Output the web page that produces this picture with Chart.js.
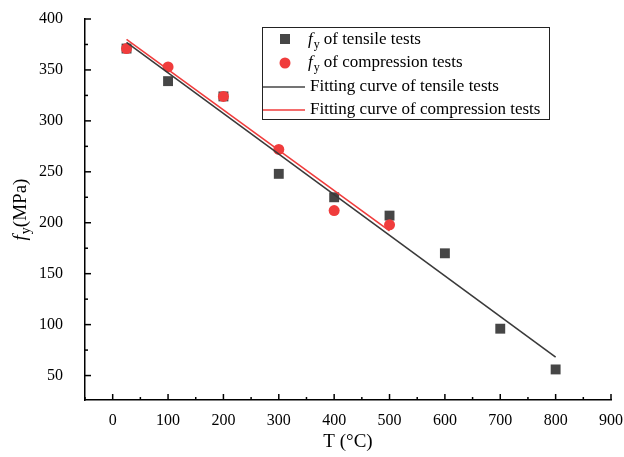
<!DOCTYPE html>
<html>
<head>
<meta charset="utf-8">
<script src="https://cdn.jsdelivr.net/npm/chart.js@4/dist/chart.umd.min.js"></script>
<style>
  html, body { margin: 0; padding: 0; background: #fff; }
  #wrap { width: 624px; height: 457px; }
</style>
</head>
<body>
<div id="wrap"><canvas id="fy_chart"></canvas></div>
<script>
// measured points
var tensileT = [25, 100, 200, 300, 400, 500, 600, 700, 800];
var tensileFy = [371, 339, 324, 248, 225, 207, 170, 96, 56];
var compT = [25, 100, 200, 300, 400, 500];
var compFy = [371, 353, 324, 272, 212, 198];
// fitted straight lines (end points)
var fitTensileT = [25, 800];
var fitTensileFy = [377, 68];
var fitCompT = [25, 500];
var fitCompFy = [380, 192];

var xTicks = [0, 100, 200, 300, 400, 500, 600, 700, 800, 900];
var yTicks = [50, 100, 150, 200, 250, 300, 350, 400];

var legendLabels = ["of tensile tests", "of compression tests",
  "Fitting curve of tensile tests", "Fitting curve of compression tests"];

function pts(xs, ys) {
  return xs.map(function (x, i) { return { x: x, y: ys[i] }; });
}

var FONT = "'Liberation Serif', 'Times New Roman', serif";
var GREY = "#464646";
var RED = "#f03c3c";

// inward major/minor ticks + legend box + rotated y title
var extras = {
  id: "extras",
  afterDraw: function (chart) {
    var c = chart.ctx, xs = chart.scales.x, ys = chart.scales.y;
    var a = chart.chartArea;
    c.save();
    c.strokeStyle = "#000";
    c.lineWidth = 1.5;
    for (var v = -50; v <= 900; v += 50) {
      var px = xs.getPixelForValue(v);
      var len = (v % 100 === 0) ? 6 : 3;
      c.beginPath(); c.moveTo(px, a.bottom); c.lineTo(px, a.bottom - len); c.stroke();
    }
    for (var w = 50; w <= 400; w += 25) {
      var py = ys.getPixelForValue(w);
      var l2 = (w % 50 === 0) ? 6 : 3;
      c.beginPath(); c.moveTo(a.left, py); c.lineTo(a.left + l2, py); c.stroke();
    }

    // legend
    var bx = 262, by = 27, bw = 287, bh = 92;
    c.fillStyle = "#fff";
    c.fillRect(bx, by, bw, bh);
    c.strokeStyle = "#222";
    c.lineWidth = 1;
    c.strokeRect(bx + 0.5, by + 0.5, bw, bh);
    c.textBaseline = "middle";
    var rows = [by + 13, by + 36, by + 60, by + 83];
    // square
    c.fillStyle = GREY;
    c.fillRect(285 - 5, rows[0] - 6, 10, 10);
    c.fillStyle = RED;
    c.beginPath(); c.arc(285, rows[1], 5.5, 0, Math.PI * 2); c.fill();
    for (var i = 0; i < 2; i++) {
      var tx = 308;
      c.fillStyle = "#000";
      c.font = "italic 17px " + FONT;
      c.fillText("f", tx, rows[i]);
      tx += c.measureText("f").width + 1;
      c.font = "12px " + FONT;
      c.fillText("y", tx, rows[i] + 5);
      tx += c.measureText("y").width + 4;
      c.font = "17px " + FONT;
      c.fillText(legendLabels[i], tx, rows[i]);
    }
    c.lineWidth = 1.5;
    c.strokeStyle = GREY;
    c.beginPath(); c.moveTo(263, rows[2]); c.lineTo(305, rows[2]); c.stroke();
    c.strokeStyle = RED;
    c.beginPath(); c.moveTo(263, rows[3]); c.lineTo(305, rows[3]); c.stroke();
    c.fillStyle = "#000";
    c.font = "17px " + FONT;
    c.fillText(legendLabels[2], 310, rows[2]);
    c.fillText(legendLabels[3], 310, rows[3]);

    // y axis title
    c.translate(19, (a.top + a.bottom) / 2);
    c.rotate(-Math.PI / 2);
    c.textBaseline = "alphabetic";
    c.font = "italic 19px " + FONT;
    var t1 = c.measureText("f").width;
    c.font = "14px " + FONT;
    var t2 = c.measureText("y").width;
    c.font = "19px " + FONT;
    var t3 = c.measureText("(MPa)").width;
    var x0 = -(t1 + t2 + t3 + 1) / 2;
    c.font = "italic 19px " + FONT;
    c.fillText("f", x0, 7);
    c.font = "14px " + FONT;
    c.fillText("y", x0 + t1 + 1, 11);
    c.font = "19px " + FONT;
    c.fillText("(MPa)", x0 + t1 + t2 + 1, 7);
    c.restore();
  }
};

var ctx = document.getElementById("fy_chart");
var fyChart = new Chart(ctx, {
  type: "scatter",
  data: {
    datasets: [{
      label: "Fitting curve of compression tests",
      data: pts(fitCompT, fitCompFy),
      showLine: true,
      borderColor: RED,
      borderWidth: 1.6,
      pointRadius: 0,
      order: 1
    }, {
      label: "Fitting curve of tensile tests",
      data: pts(fitTensileT, fitTensileFy),
      showLine: true,
      borderColor: "#3a3a3a",
      borderWidth: 1.6,
      pointRadius: 0,
      order: 2
    }, {
      label: "fy of compression tests",
      data: pts(compT, compFy),
      pointStyle: "circle",
      pointRadius: 5.5,
      backgroundColor: RED,
      borderColor: RED,
      borderWidth: 0,
      order: 3
    }, {
      label: "fy of tensile tests",
      data: pts(tensileT, tensileFy),
      pointStyle: "rect",
      pointRadius: 7,
      backgroundColor: GREY,
      borderColor: GREY,
      borderWidth: 0,
      order: 4
    }]
  },
  options: {
    responsive: true,
    maintainAspectRatio: false,
    animation: false,
    layout: { padding: { top: 19, right: 13, left: 0, bottom: 0 } },
    plugins: {
      legend: { display: false },
      tooltip: { enabled: false }
    },
    scales: {
      x: {
        type: "linear",
        min: -50,
        max: 900,
        afterBuildTicks: function (s) { s.ticks = xTicks.map(function (v) { return { value: v }; }); },
        grid: { display: false, drawTicks: false },
        border: { display: true, color: "#000", width: 1.5 },
        ticks: { color: "#000", padding: 11, maxRotation: 0, font: { family: FONT, size: 16 } },
        title: { display: true, text: "T (°C)", color: "#000", padding: { top: 6, bottom: 4 }, font: { family: FONT, size: 19 } },
        afterFit: function (s) { s.height = 57; s.paddingLeft = 0; s.paddingRight = 0; }
      },
      y: {
        type: "linear",
        min: 26,
        max: 400,
        afterBuildTicks: function (s) { s.ticks = yTicks.map(function (v) { return { value: v }; }); },
        grid: { display: false, drawTicks: false },
        border: { display: true, color: "#000", width: 1.5 },
        ticks: { color: "#000", padding: 22, font: { family: FONT, size: 16 } },
        afterFit: function (s) { s.width = 85; s.paddingTop = 0; s.paddingBottom = 0; }
      }
    }
  },
  plugins: [extras]
});
</script>
</body>
</html>
